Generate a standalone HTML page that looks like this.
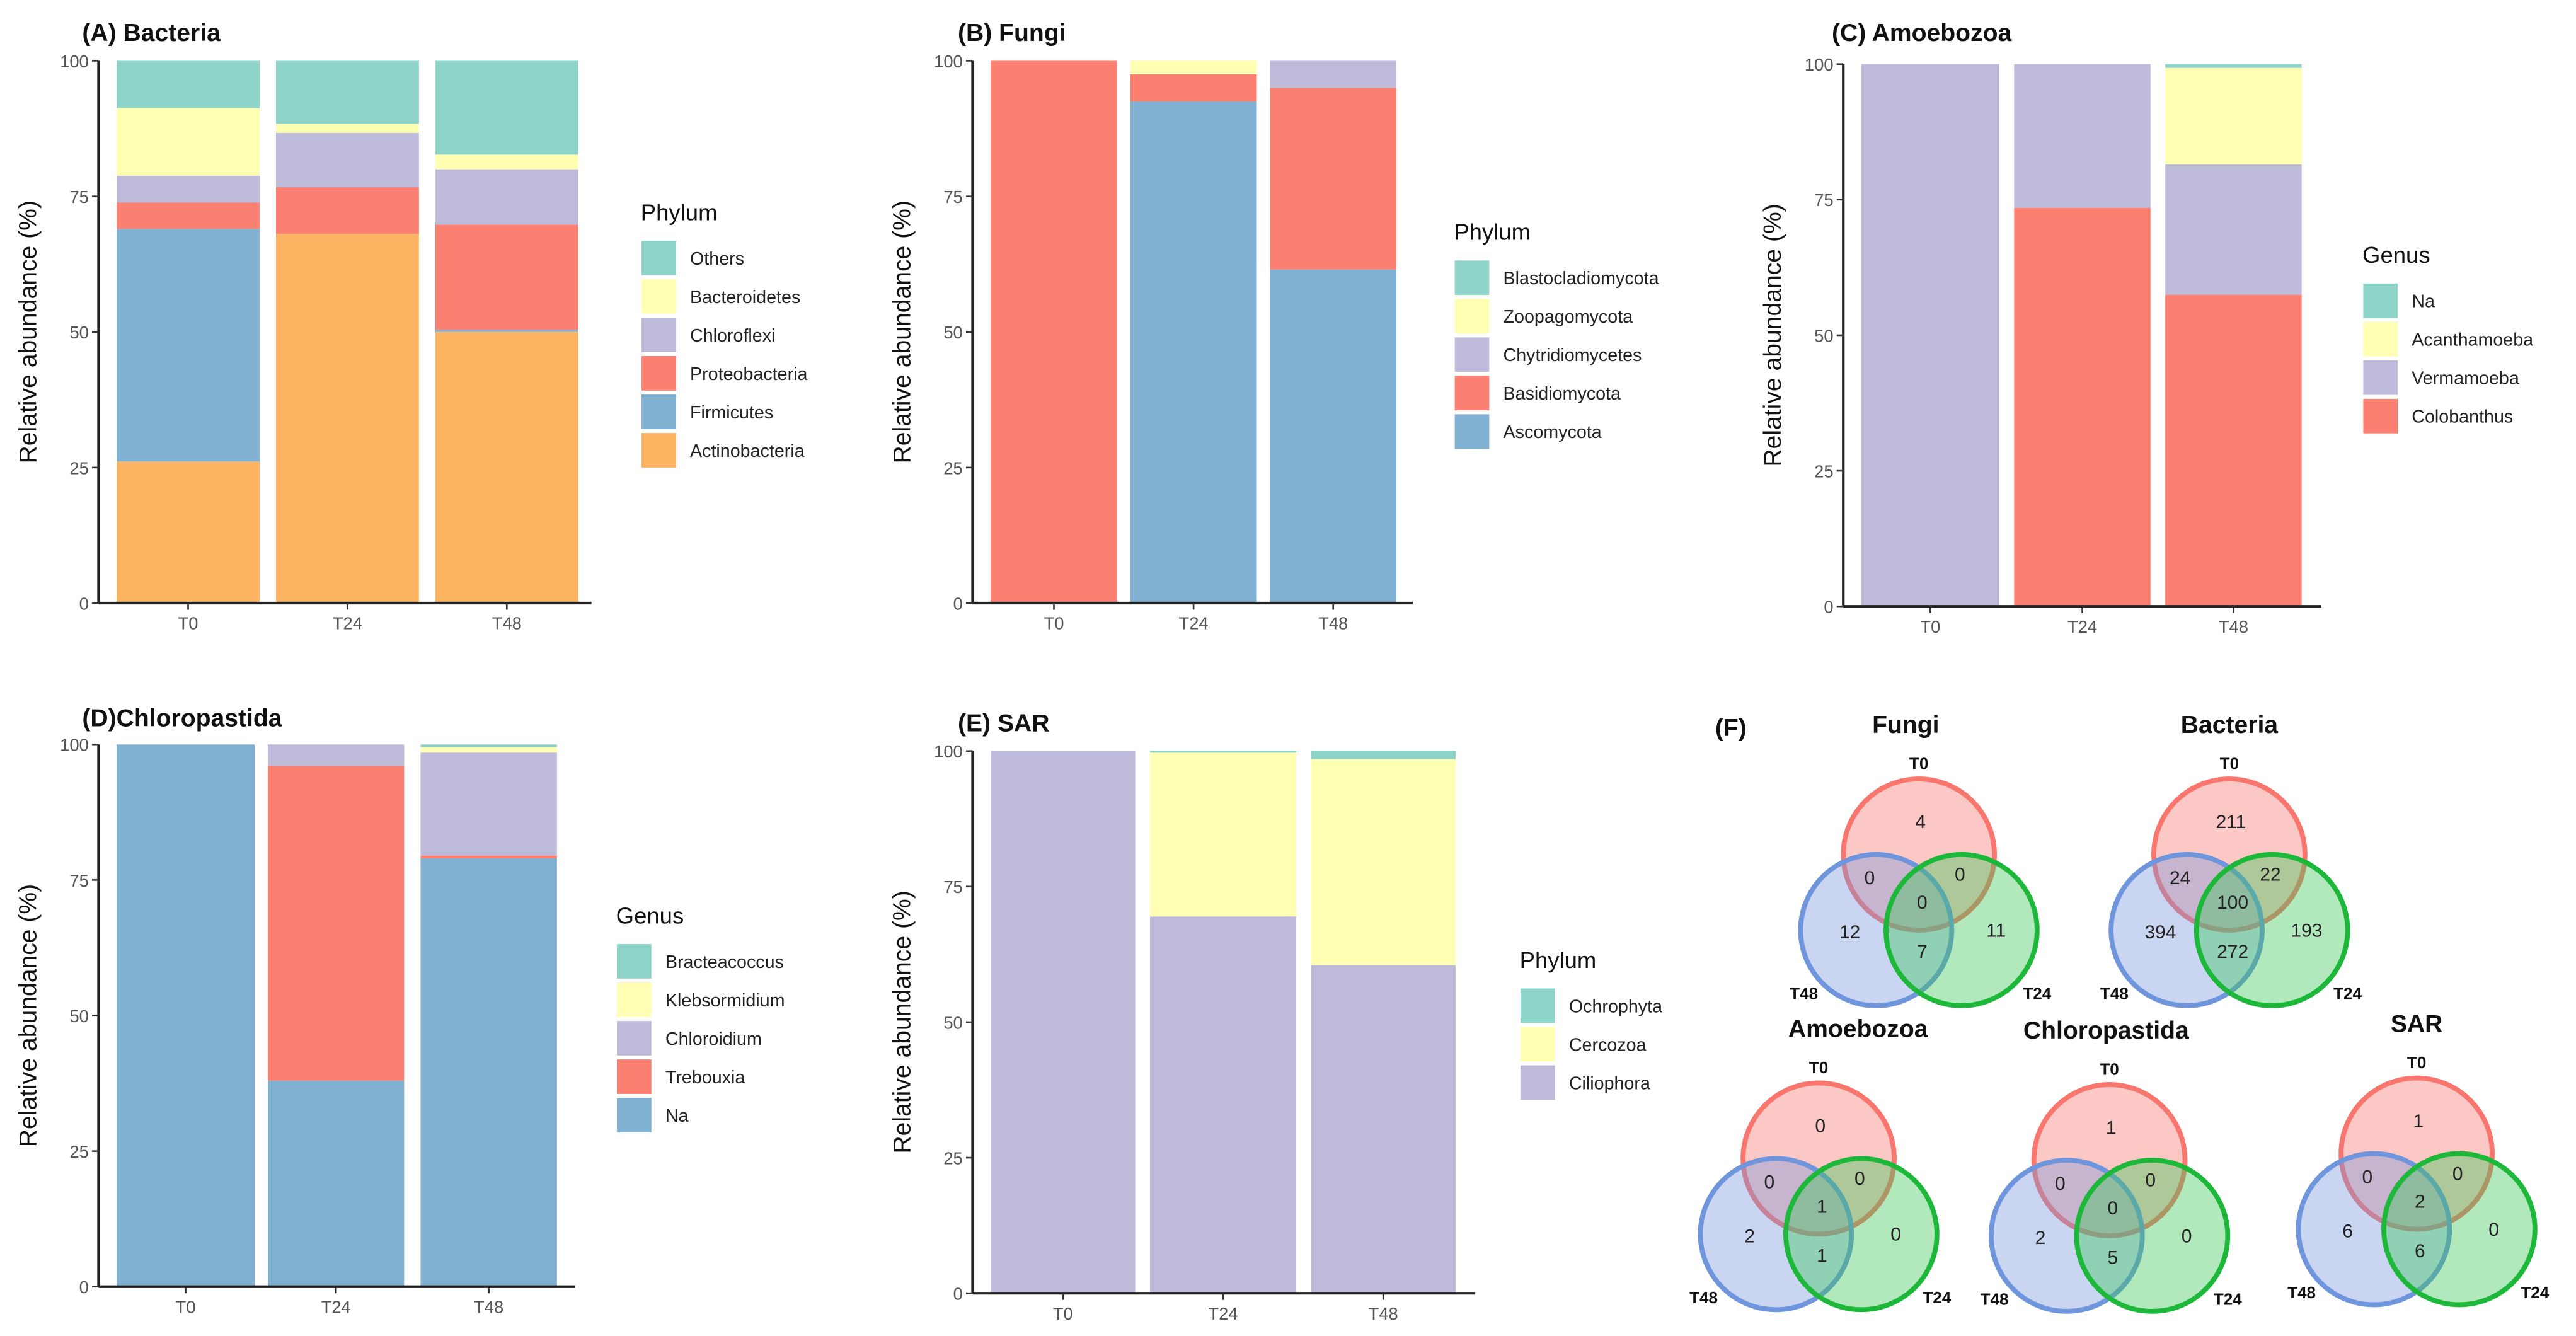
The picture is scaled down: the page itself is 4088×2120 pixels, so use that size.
<!DOCTYPE html>
<html><head><meta charset="utf-8">
<style>
html,body{margin:0;padding:0;background:#fff;}
svg{display:block;font-family:"Liberation Sans",sans-serif;}
.tick{font-size:10.5px;fill:#555;}
.ytitle{font-size:15px;fill:#111;}
.ptitle{font-size:15px;font-weight:bold;fill:#111;}
.lt{font-size:11px;fill:#222;}
.lh{font-size:14px;fill:#111;}
.vt{font-size:15px;font-weight:bold;fill:#111;}
.vl{font-size:10px;font-weight:bold;fill:#111;}
.vn{font-size:11.5px;fill:#222;}
</style></head>
<body>
<svg id="fig" width="4088" height="2120" viewBox="0 0 1568 813" preserveAspectRatio="none" xmlns="http://www.w3.org/2000/svg"></svg>
<script>
// ---- data ----
const categories = ["T0","T24","T48"];
// Panel A Bacteria (bottom -> top)
const bacActino = [26.1, 68.1, 50.0];
const bacFirm = [42.9, 0, 0.4];
const bacProteo = [4.9, 8.6, 19.4];
const bacChloro = [4.9, 10.0, 10.2];
const bacBact = [12.5, 1.7, 2.7];
const bacOthers = [8.7, 11.6, 17.3];
// Panel B Fungi
const funAsco = [0, 92.5, 61.5];
const funBasid = [100, 5.0, 33.5];
const funChytr = [0, 0, 5.0];
const funZoop = [0, 2.5, 0];
const funBlast = [0, 0, 0];
// Panel C Amoebozoa
const amoColo = [0, 73.5, 57.5];
const amoVerm = [100, 26.5, 24.0];
const amoAcan = [0, 0, 17.8];
const amoNa = [0, 0, 0.7];
// Panel D Chloropastida
const chlNa = [100, 38.0, 79.0];
const chlTreb = [0, 58.0, 0.5];
const chlChld = [0, 4.0, 19.0];
const chlKleb = [0, 0, 1.0];
const chlBrac = [0, 0, 0.5];
// Panel E SAR
const sarCilio = [100, 69.5, 60.5];
const sarCerco = [0, 30.2, 38.0];
const sarOchro = [0, 0.3, 1.5];
const yTicks = [0,25,50,75,100];
// Venn counts: [T0only, T0∩T48, T0∩T24, all, T48only, T24only, T48∩T24]
const vennFungi = [4,0,0,0,12,11,7];
const vennBacteria = [211,24,22,100,394,193,272];
const vennAmoebozoa = [0,0,0,1,2,0,1];
const vennChloro = [1,0,0,0,2,0,5];
const vennSAR = [1,0,0,2,6,0,6];

const C = {teal:"#8DD3C7",yel:"#FFFFB3",lav:"#BEBADA",sal:"#FB8072",blu:"#80B1D3",ora:"#FDB462"};
const NS="http://www.w3.org/2000/svg";
const svg=document.getElementById('fig');
function mk(tag,attrs,parent,text){const e=document.createElementNS(NS,tag);for(const k in attrs)e.setAttribute(k,attrs[k]);if(text!==undefined)e.textContent=text;(parent||svg).appendChild(e);return e;}

function panel(cfg){
  const g=mk('g',{});
  
  
  const y=v=>cfg.bottom-(cfg.bottom-cfg.top)*v/100;
  cfg.bars.forEach((bx,i)=>{
    let acc=0;
    cfg.series.forEach((s,j)=>{
      const v=s.vals[i];
      if(v>0){
        const r=mk('rect',{x:bx[0],y:y(acc+v),width:bx[1]-bx[0],height:y(acc)-y(acc+v),fill:s.color},g);
        
        
      }
      acc+=v;
    });
    const cx=(bx[0]+bx[1])/2;
    mk('line',{x1:cx,x2:cx,y1:cfg.bottom,y2:cfg.bottom+4,stroke:'#333','stroke-width':1},g);
    const t=mk('text',{x:cx,y:cfg.bottom+16,class:'tick','text-anchor':'middle'},g,categories[i]);
    
    
  });
  const ax=mk('line',{x1:cfg.ax,x2:cfg.ax,y1:cfg.top,y2:cfg.bottom,stroke:'#222','stroke-width':1.6},g);
  
  
  const xa=mk('line',{x1:cfg.ax,x2:cfg.xend,y1:cfg.bottom,y2:cfg.bottom,stroke:'#222','stroke-width':1.6},g);
  
  
  yTicks.forEach(v=>{
    mk('line',{x1:cfg.ax-4,x2:cfg.ax,y1:y(v),y2:y(v),stroke:'#333','stroke-width':1},g);
    const t=mk('text',{x:cfg.ax-6,y:y(v)+4,class:'tick','text-anchor':'end'},g,String(v));
    
    
  });
  const yt=mk('text',{x:0,y:0,class:'ytitle','text-anchor':'middle',transform:`translate(${cfg.ax-38},${(cfg.top+cfg.bottom)/2}) rotate(-90)`},g,'Relative abundance (%)');
  
  
  const pt=mk('text',{x:cfg.tx,y:cfg.ty,class:'ptitle'},g,cfg.title);
  
  
  const lh=mk('text',{x:cfg.lx,y:cfg.ly,class:'lh'},g,cfg.legTitle);
  
  
  const rev=cfg.series.slice().reverse();
  rev.forEach((s,k)=>{
    const yy=cfg.ly+12+k*23.4;
    const r=mk('rect',{x:cfg.lx,y:yy,width:22,height:22,fill:s.color,stroke:'#fff','stroke-width':1},g);
    
    
    const t=mk('text',{x:cfg.lx+30,y:yy+15,class:'lt'},g,s.label);
    
    
  });
}

panel({name:'bacteria',title:'(A) Bacteria',tx:50,ty:25,ax:60,top:37,bottom:367,xend:360,
  bars:[[71,158],[168,255],[265,352]],lx:390,ly:134,legTitle:'Phylum',
  series:[{label:'Actinobacteria',vals:bacActino,color:C.ora},{label:'Firmicutes',vals:bacFirm,color:C.blu},
  {label:'Proteobacteria',vals:bacProteo,color:C.sal},{label:'Chloroflexi',vals:bacChloro,color:C.lav},
  {label:'Bacteroidetes',vals:bacBact,color:C.yel},{label:'Others',vals:bacOthers,color:C.teal}]});
panel({name:'fungi',title:'(B) Fungi',tx:583,ty:25,ax:592,top:37,bottom:367,xend:860,
  bars:[[603,680],[688,765],[773,850]],lx:885,ly:146,legTitle:'Phylum',
  series:[{label:'Ascomycota',vals:funAsco,color:C.blu},{label:'Basidiomycota',vals:funBasid,color:C.sal},
  {label:'Chytridiomycetes',vals:funChytr,color:C.lav},{label:'Zoopagomycota',vals:funZoop,color:C.yel},
  {label:'Blastocladiomycota',vals:funBlast,color:C.teal}]});
panel({name:'amoebozoa',title:'(C) Amoebozoa',tx:1115,ty:25,ax:1122,top:39,bottom:369,xend:1413,
  bars:[[1133,1217],[1226,1309],[1318,1401]],lx:1438,ly:160,legTitle:'Genus',
  series:[{label:'Colobanthus',vals:amoColo,color:C.sal},{label:'Vermamoeba',vals:amoVerm,color:C.lav},
  {label:'Acanthamoeba',vals:amoAcan,color:C.yel},{label:'Na',vals:amoNa,color:C.teal}]});
panel({name:'chloropastida',title:'(D)Chloropastida',tx:50,ty:442,ax:60,top:453,bottom:783,xend:350,
  bars:[[71,155],[163,246],[256,339]],lx:375,ly:562,legTitle:'Genus',
  series:[{label:'Na',vals:chlNa,color:C.blu},{label:'Trebouxia',vals:chlTreb,color:C.sal},
  {label:'Chloroidium',vals:chlChld,color:C.lav},{label:'Klebsormidium',vals:chlKleb,color:C.yel},
  {label:'Bracteacoccus',vals:chlBrac,color:C.teal}]});
panel({name:'sar',title:'(E) SAR',tx:583,ty:445,ax:592,top:457,bottom:787,xend:898,
  bars:[[603,691],[700,789],[798,886]],lx:925,ly:589,legTitle:'Phylum',
  series:[{label:'Ciliophora',vals:sarCilio,color:C.lav},{label:'Cercozoa',vals:sarCerco,color:C.yel},
  {label:'Ochrophyta',vals:sarOchro,color:C.teal}]});

const fl=mk('text',{x:1044,y:448,class:'ptitle'},svg,'(F)');



function venn(name,title,cx,cy,counts,tdx){
  const g=mk('g',{});
  
  
  const r=46, dx=26, dy=46;
  const c0=[cx,cy], c48=[cx-dx,cy+dy], c24=[cx+dx,cy+dy];
  const t=mk('text',{x:cx+(tdx||0),y:cy-74,class:'vt','text-anchor':'middle'},g,title);
  
  
  [[c0,'rgba(248,118,109,0.4)','#F8766D','t0'],[c48,'rgba(120,150,220,0.4)','#6F95DC','t48'],[c24,'rgba(60,200,90,0.4)','#1DB83A','t24']].forEach(a=>{
    const e=mk('circle',{cx:a[0][0],cy:a[0][1],r:r,fill:a[1],stroke:a[2],'stroke-width':3},g);
    
    
  });
  const labs=[['T0',cx,cy-52],['T48',cx-70,cy+88],['T24',cx+72,cy+88]];
  labs.forEach(l=>{const e=mk('text',{x:l[1],y:l[2],class:'vl','text-anchor':'middle'},g,l[0]);
    
    });
  const pos=[[1,-20],[-30,14],[25,12],[2,29],[-42,47],[47,46],[2,59]];
  pos.forEach((p,i)=>{const e=mk('text',{x:cx+p[0],y:cy+p[1]+4,class:'vn','text-anchor':'middle'},g,String(counts[i]));
    
    });
}
venn('fungi','Fungi',1168,520,vennFungi,-8);
venn('bacteria','Bacteria',1357,520,vennBacteria,0);
venn('amoebozoa','Amoebozoa',1107,705,vennAmoebozoa,24);
venn('chloropastida','Chloropastida',1284,706,vennChloro,-2);
venn('sar','SAR',1471,702,vennSAR,0);
</script>
</body></html>
